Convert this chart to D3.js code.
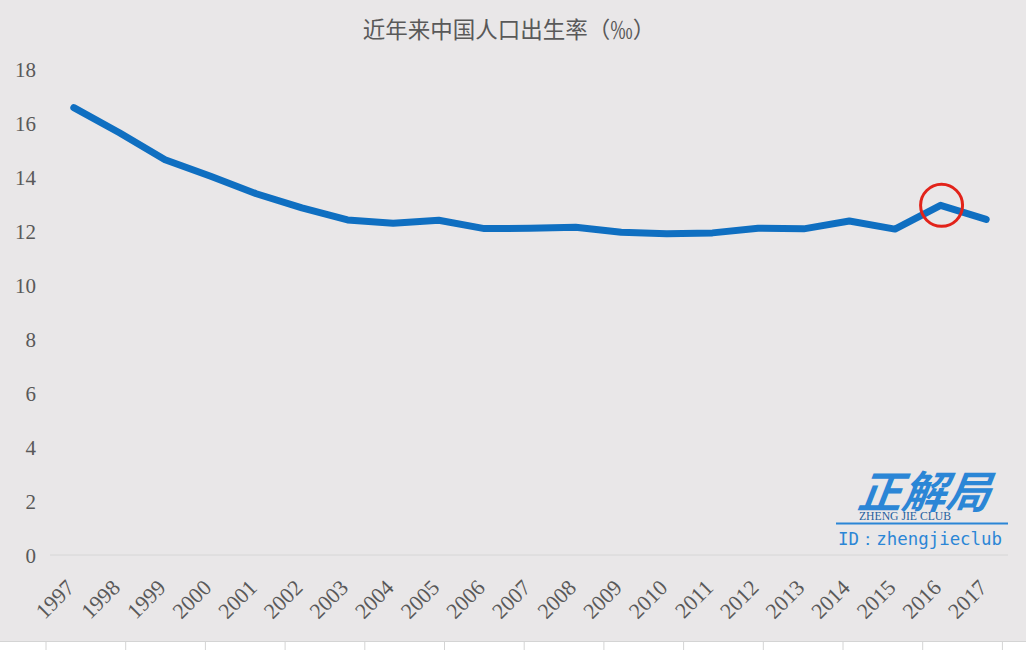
<!DOCTYPE html>
<html><head><meta charset="utf-8">
<script src="https://cdn.jsdelivr.net/npm/d3@7"></script>
<style>html,body{margin:0;padding:0;background:#e9e7e8;}svg{display:block;}</style>
</head><body><svg id="c" width="1026" height="650"></svg>
<script>
const years = ["1997","1998","1999","2000","2001","2002","2003","2004","2005","2006","2007","2008","2009","2010","2011","2012","2013","2014","2015","2016","2017"];
const birthRate = [16.57,15.64,14.64,14.03,13.38,12.86,12.41,12.29,12.40,12.09,12.10,12.14,11.95,11.90,11.93,12.10,12.08,12.37,12.07,12.95,12.43];
const yTicks = [0,2,4,6,8,10,12,14,16,18];
const highlightYear = "2016";
const title = "近年来中国人口出生率（‰）";

const svg = d3.select("#c");
const W = 1026, H = 650;
svg.append("rect").attr("width",W).attr("height",H).attr("fill","#e9e7e8");

// spreadsheet strip at bottom
svg.append("rect").attr("x",0).attr("y",641).attr("width",W).attr("height",9).attr("fill","#ffffff");
const cellX = d3.range(0,13).map(i=>46+i*79.7);
svg.selectAll("line.cell").data(cellX).join("line").attr("class","cell")
  .attr("x1",d=>d).attr("x2",d=>d).attr("y1",641).attr("y2",650).attr("stroke","#d4d4d4");
svg.append("line").attr("x1",0).attr("x2",W).attr("y1",641.5).attr("y2",641.5).attr("stroke","#d4d4d4");

const x = d3.scaleBand().domain(years).range([51,1009]);
const y = d3.scaleLinear().domain([0,18]).range([555,69]);

svg.append("text").attr("x",509).attr("y",38).attr("text-anchor","middle")
  .attr("font-family","'Noto Sans CJK SC'").attr("font-size",22.5).attr("fill","#595959").text(title);

// baseline
svg.append("line").attr("x1",50).attr("x2",1008).attr("y1",y(0)).attr("y2",y(0)).attr("stroke","#d6d6d6").attr("stroke-width",1);

// y axis
const yAxis = d3.axisLeft(y).tickValues(yTicks).tickSize(0).tickPadding(0);
const gy = svg.append("g").attr("transform","translate(36,0)").call(yAxis);
gy.select(".domain").remove();
gy.selectAll("text").attr("font-family","'Liberation Serif'").attr("font-size",21).attr("fill","#595959").attr("dy","0.35em");

// x axis
const xAxis = d3.axisBottom(x).tickSize(0).tickPadding(0);
const gx = svg.append("g").attr("transform","translate(0,572)").call(xAxis);
gx.select(".domain").remove();
gx.selectAll("text").attr("font-family","'Liberation Serif'").attr("font-size",22).attr("fill","#595959")
  .attr("text-anchor","end").attr("dy","0").attr("y",0)
  .attr("transform","translate(2,17) rotate(-45)");

// line
const line = d3.line().x((d,i)=>x(years[i])+x.bandwidth()/2).y(d=>y(d));
svg.append("path").datum(birthRate).attr("d",line).attr("fill","none")
  .attr("stroke","#0f6fc1").attr("stroke-width",7).attr("stroke-linecap","round").attr("stroke-linejoin","round");

// highlight circle
const hi = years.indexOf(highlightYear);
svg.append("circle").attr("cx",x(highlightYear)+x.bandwidth()/2+1).attr("cy",y(birthRate[hi]))
  .attr("r",21).attr("fill","none").attr("stroke","#e2231a").attr("stroke-width",3);

// watermark
const wm = svg.append("g");
wm.append("text").attr("x",924).attr("y",508).attr("text-anchor","middle")
  .attr("font-family","'Noto Sans CJK SC'").attr("font-weight","bold").attr("font-style","italic")
  .attr("font-size",44).attr("fill","#2b86d6").attr("transform","skewX(-8) translate(70,0)").text("正解局");
wm.append("text").attr("x",905).attr("y",520).attr("text-anchor","middle")
  .attr("font-family","'Liberation Serif'").attr("font-size",13).attr("fill","#1f5f9e")
  .attr("textLength",92).attr("lengthAdjust","spacingAndGlyphs").text("ZHENG JIE CLUB");
wm.append("line").attr("x1",836).attr("x2",1008).attr("y1",523.5).attr("y2",523.5).attr("stroke","#2b86d6").attr("stroke-width",2);
wm.append("text").attr("x",838).attr("y",545).attr("font-family","'DejaVu Sans Mono'").attr("font-size",17)
  .attr("fill","#2b86d6").attr("textLength",164).attr("lengthAdjust","spacingAndGlyphs").text("ID：zhengjieclub");
</script></body></html>
